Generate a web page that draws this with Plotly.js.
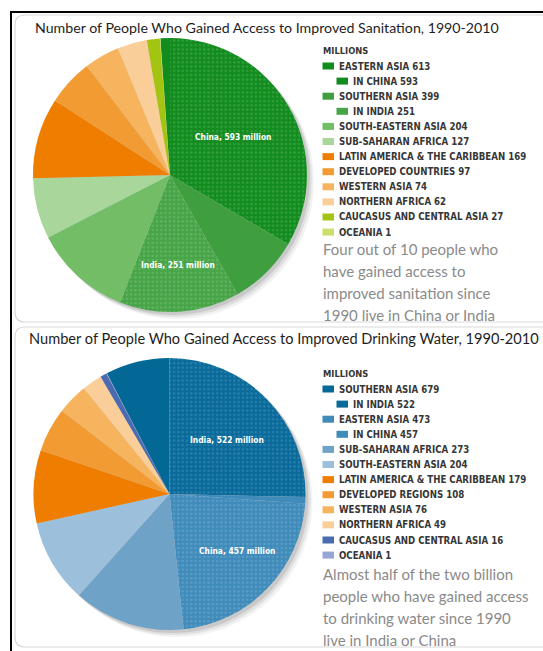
<!DOCTYPE html>
<html><head><meta charset="utf-8">
<script src="https://cdn.plot.ly/plotly-3.0.1.min.js"></script>
<style>html,body{margin:0;padding:0;background:#fff}#chart{width:543px;height:651px}</style>
</head><body><div id="chart"></div>
<script>
// ---------- DATA: sanitation ----------
const sanTitle = 'Number of People Who Gained Access to Improved Sanitation, 1990-2010';
const sanRegions = ['EASTERN ASIA','SOUTHERN ASIA','SOUTH-EASTERN ASIA','SUB-SAHARAN AFRICA','LATIN AMERICA & THE CARIBBEAN','DEVELOPED COUNTRIES','WESTERN ASIA','NORTHERN AFRICA','CAUCASUS AND CENTRAL ASIA','OCEANIA'];
const sanValues = [613,399,204,127,169,97,74,62,27,1];
const sanSubNames = ['China','India'];
const sanSubValues = [593,251];
const sanSubParents = ['EASTERN ASIA','SOUTHERN ASIA'];
const sanNote = ['Four out of 10 people who','have gained access to','improved sanitation since','1990 live in China or India'];

// ---------- DATA: drinking water ----------
const watTitle = 'Number of People Who Gained Access to Improved Drinking Water, 1990-2010';
const watRegions = ['SOUTHERN ASIA','EASTERN ASIA','SUB-SAHARAN AFRICA','SOUTH-EASTERN ASIA','LATIN AMERICA & THE CARIBBEAN','DEVELOPED REGIONS','WESTERN ASIA','NORTHERN AFRICA','CAUCASUS AND CENTRAL ASIA','OCEANIA'];
const watValues = [679,473,273,204,179,108,76,49,16,1];
const watSubNames = ['India','China'];
const watSubValues = [522,457];
const watSubParents = ['SOUTHERN ASIA','EASTERN ASIA'];
const watNote = ['Almost half of the two billion','people who have gained access','to drinking water since 1990','live in India or China'];

// ---------- STYLE ----------
const sanColors = ['#128b1f','#3f9f3f','#72bd66','#a8d69b','#ef7d00','#f39b33','#f6b45e','#f9ce98','#a3c512','#cadf6c'];
const sanSubColors = ['#128b1f','#47a447'];
const sanSubDots = ['#55b25a','#7cc47a'];
const watColors = ['#036896','#3f8bb9','#6fa2c7','#9cc0db','#ef7d00','#f39b33','#f6b45e','#f9ce98','#4a6bb0','#97a4d6'];
const watSubColors = ['#0a6a99','#3f8bb9'];
const watSubDots = ['#4a93bf','#7aaed3'];

const W = 543, H = 651;
const px = x => x / W;
const py = y => 1 - y / H;

function buildSlices(regions, values, subNames, subValues, subParents, colors, subColors, subDots) {
  const labels = [], vals = [], cols = [], shp = [], fg = [];
  regions.forEach((r, i) => {
    const k = subParents.indexOf(r);
    if (k >= 0) {
      labels.push(r + ' (other)'); vals.push(values[i] - subValues[k]); cols.push(colors[i]); shp.push(''); fg.push(colors[i]);
      labels.push(subNames[k]); vals.push(subValues[k]); cols.push(subColors[k]); shp.push('.'); fg.push(subDots[k]);
    } else {
      labels.push(r); vals.push(values[i]); cols.push(colors[i]); shp.push(''); fg.push(colors[i]);
    }
  });
  const total = vals.reduce((a, b) => a + b, 0);
  return {labels, vals, cols, shp, fg, rotation: -vals[0] / total * 360};
}

function pieTrace(s, x0, x1, y0, y1) {
  return {
    type: 'pie', labels: s.labels, values: s.vals, sort: false, direction: 'clockwise',
    rotation: s.rotation, textinfo: 'none', hoverinfo: 'skip', showlegend: false,
    domain: {x: [px(x0), px(x1)], y: [py(y1), py(y0)]},
    marker: {colors: s.cols, line: {width: 0},
      pattern: {shape: s.shp, fgcolor: s.fg, fillmode: 'overlay', size: 4.3, solidity: 0.28}}
  };
}

const san = buildSlices(sanRegions, sanValues, sanSubNames, sanSubValues, sanSubParents, sanColors, sanSubColors, sanSubDots);
const wat = buildSlices(watRegions, watValues, watSubNames, watSubValues, watSubParents, watColors, watSubColors, watSubDots);

const traces = [pieTrace(san, 33, 307, 38, 312), pieTrace(wat, 33.5, 305.5, 358, 630)];

const shapes = [];
const annotations = [];

function roundRect(x0, y0, x1, y1, r) {
  const p = (x, y) => px(x) + ',' + py(y);
  return 'M' + p(x0 + r, y0) + ' L' + p(x1 - r, y0) + ' Q' + p(x1, y0) + ' ' + p(x1, y0 + r) +
    ' L' + p(x1, y1 - r) + ' Q' + p(x1, y1) + ' ' + p(x1 - r, y1) + ' L' + p(x0 + r, y1) +
    ' Q' + p(x0, y1) + ' ' + p(x0, y1 - r) + ' L' + p(x0, y0 + r) + ' Q' + p(x0, y0) + ' ' + p(x0 + r, y0) + ' Z';
}
// panels
shapes.push({type: 'path', xref: 'paper', yref: 'paper', layer: 'below', path: roundRect(15, 15, 552, 322, 10), line: {color: '#d9d9d9', width: 1.2}, fillcolor: '#fff'});
shapes.push({type: 'path', xref: 'paper', yref: 'paper', layer: 'below', path: roundRect(15, 327, 552, 647, 10), line: {color: '#d9d9d9', width: 1.2}, fillcolor: '#fff'});
// outer black frame
shapes.push({type: 'line', xref: 'paper', yref: 'paper', x0: px(10), x1: px(543), y0: py(12), y1: py(12), line: {color: '#000', width: 2}});
shapes.push({type: 'line', xref: 'paper', yref: 'paper', x0: px(11), x1: px(11), y0: py(11), y1: py(651), line: {color: '#000', width: 2}});
// pie shadows
function shadow(cx, cy, r) {
  [[7, 0.05], [5, 0.07], [3, 0.1]].forEach(([o, a]) => {
    shapes.push({type: 'circle', xref: 'paper', yref: 'paper', layer: 'below',
      x0: px(cx - r + o), x1: px(cx + r + o), y0: py(cy + r + o), y1: py(cy - r + o),
      fillcolor: 'rgba(0,0,0,' + a + ')', line: {width: 0}});
  });
}
shadow(170, 175, 137);
shadow(169.5, 494, 136);

// titles
annotations.push({text: sanTitle, xref: 'paper', yref: 'paper', x: px(33), y: py(28), xanchor: 'left', yanchor: 'middle', showarrow: false, font: {family: 'Lato', size: 14.2, color: '#1e1e1e'}});
annotations.push({text: watTitle, xref: 'paper', yref: 'paper', x: px(27), y: py(338), xanchor: 'left', yanchor: 'middle', showarrow: false, font: {family: 'Lato', size: 14.6, color: '#1e1e1e'}});

// legends
const CF = '"DejaVu Sans Condensed", "DejaVu Sans", sans-serif';
const legFont = {family: CF, size: 9.6, color: '#363636', weight: 700};
function legend(regions, values, subNames, subValues, subParents, colors, subColors, y0, dy) {
  annotations.push({text: 'MILLIONS', xref: 'paper', yref: 'paper', x: px(321), y: py(y0 - dy), xanchor: 'left', yanchor: 'middle', showarrow: false, font: Object.assign({}, legFont, {size: 9.3})});
  let y = y0;
  regions.forEach((r, i) => {
    shapes.push({type: 'rect', xref: 'paper', yref: 'paper', x0: px(322.5), x1: px(334), y0: py(y + 3.5), y1: py(y - 3.5), fillcolor: colors[i], line: {width: 0}});
    annotations.push({text: r + ' ' + values[i], xref: 'paper', yref: 'paper', x: px(337), y: py(y), xanchor: 'left', yanchor: 'middle', showarrow: false, font: legFont});
    y += dy;
    const k = subParents.indexOf(r);
    if (k >= 0) {
      shapes.push({type: 'rect', xref: 'paper', yref: 'paper', x0: px(336.5), x1: px(348), y0: py(y + 3.5), y1: py(y - 3.5), fillcolor: subColors[k], line: {width: 0}});
      annotations.push({text: 'IN ' + subNames[k].toUpperCase() + ' ' + subValues[k], xref: 'paper', yref: 'paper', x: px(350.5), y: py(y), xanchor: 'left', yanchor: 'middle', showarrow: false, font: legFont});
      y += dy;
    }
  });
  return y;
}
legend(sanRegions, sanValues, sanSubNames, sanSubValues, sanSubParents, sanColors, sanSubColors, 66, 15.1);
legend(watRegions, watValues, watSubNames, watSubValues, watSubParents, watColors, watSubColors, 389, 15.1);

// notes
const noteFont = {family: 'Lato', size: 15, color: '#8a8a8a'};
sanNote.forEach((t, i) => annotations.push({text: t, xref: 'paper', yref: 'paper', x: px(321), y: py(248.5 + i * 22.2), xanchor: 'left', yanchor: 'middle', showarrow: false, font: noteFont}));
watNote.forEach((t, i) => annotations.push({text: t, xref: 'paper', yref: 'paper', x: px(321), y: py(573.5 + i * 22.2), xanchor: 'left', yanchor: 'middle', showarrow: false, font: noteFont}));

// slice labels
const lblFont = {family: CF, size: 8.4, color: '#ffffff', weight: 700};
const sliceLbl = (name, v, x, y) => annotations.push({text: name + ', ' + v + ' million', xref: 'paper', yref: 'paper', x: px(x), y: py(y), xanchor: 'center', yanchor: 'middle', showarrow: false, font: lblFont});
sliceLbl(sanSubNames[0], sanSubValues[0], 233, 137);
sliceLbl(sanSubNames[1], sanSubValues[1], 178, 265);
sliceLbl(watSubNames[0], watSubValues[0], 227, 439.5);
sliceLbl(watSubNames[1], watSubValues[1], 237, 550.5);

const layout = {
  width: W, height: H, margin: {l: 0, r: 0, t: 0, b: 0},
  paper_bgcolor: '#ffffff', showlegend: false,
  shapes: shapes, annotations: annotations
};
Plotly.newPlot('chart', traces, layout, {displayModeBar: false, staticPlot: true});
</script>
</body></html>
